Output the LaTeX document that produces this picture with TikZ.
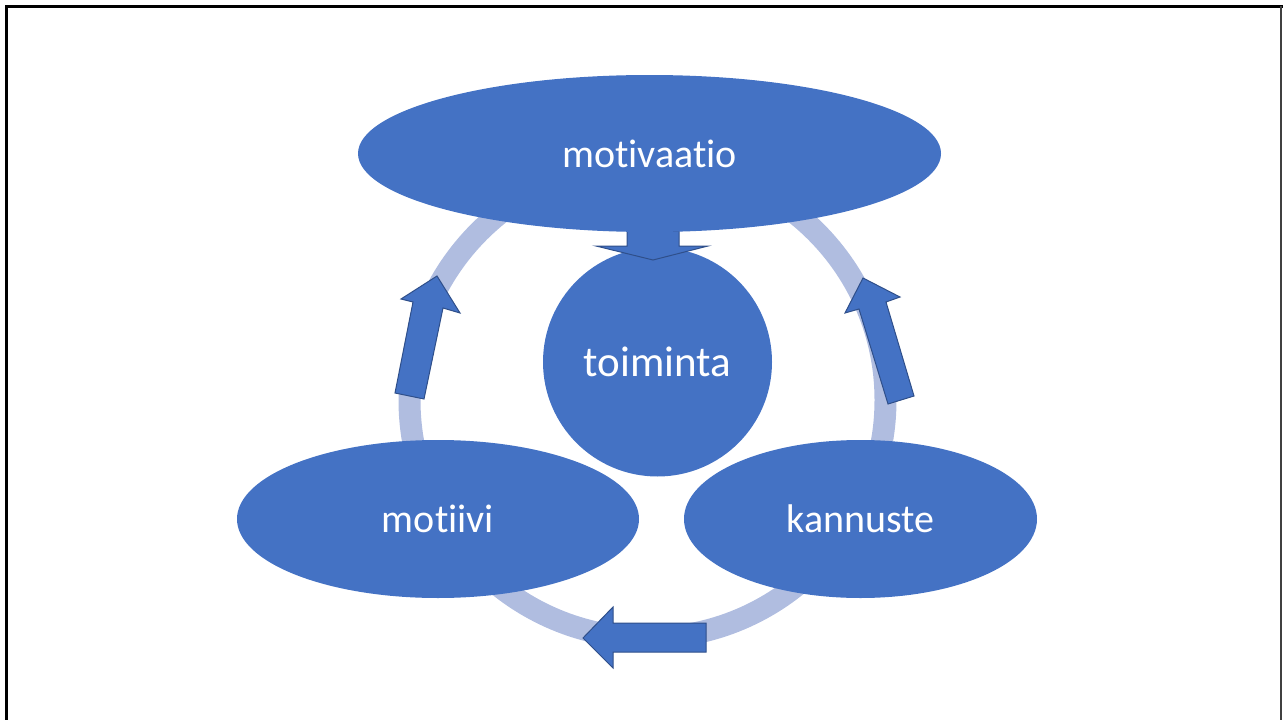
\documentclass[tikz,border=0pt]{standalone}
\usepackage{fontspec}
\setmainfont{Carlito}[Ligatures={NoCommon,NoContextual}]
\usetikzlibrary{shapes.geometric}
\definecolor{blk}{HTML}{4472C4}
\definecolor{ringc}{HTML}{B0BDE0}
\definecolor{edgec}{HTML}{2F4F8A}
\tikzset{
  blob/.style={ellipse, fill=blk, inner sep=0pt, text=white, font=\fontsize{40}{48}\selectfont},
  blockarrow/.style={fill=blk, draw=edgec, line width=1pt, line join=miter}
}
\begin{document}
\begin{tikzpicture}[x=1pt,y=-1pt]
\useasboundingbox (0,0) rectangle (1283,720);
% frame
\draw[line width=3pt, black] (6,720) -- (6,6) -- (1283,6);
\draw[line width=2pt, black!75] (1281,6) -- (1281,720);
% ring
\draw[line width=22pt, ringc] (647.5,400) circle [radius=238pt];
% centre circle
\node[blob, circle, minimum size=229pt, font=\fontsize{43}{50}\selectfont] (toim) at (657.5,362) {toiminta};
% arrows
\draw[blockarrow] (627,231) -- (679,231) -- (679,246) -- (708,246) -- (653,260) -- (596,246) -- (627,246) -- cycle;
\draw[blockarrow] (437,276) -- (460,313) -- (443,308) -- (424,399) -- (395,393) -- (413,302) -- (401,299) -- cycle;
\draw[blockarrow] (863,278) -- (900,297) -- (886,302) -- (914,396) -- (888,404) -- (859,309) -- (845,313) -- cycle;
\draw[blockarrow] (583,638) -- (613,607) -- (613,623) -- (706,623) -- (706,652) -- (613,652) -- (613,668) -- cycle;
% ellipses
\node[blob, minimum width=583pt, minimum height=157pt] (motivaatio) at (649.5,153.5) {motivaatio};
\node[blob, minimum width=402pt, minimum height=158pt] (motiivi) at (438,519) {motiivi};
\node[blob, minimum width=353pt, minimum height=158pt] (kannuste) at (860.5,519) {kannuste};
\end{tikzpicture}
\end{document}
